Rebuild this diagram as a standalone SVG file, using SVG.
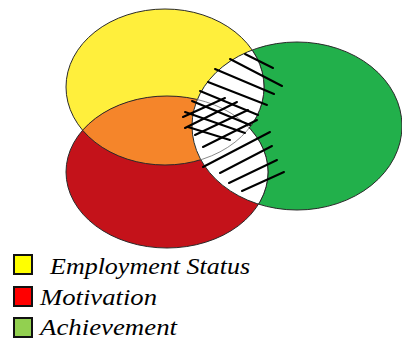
<svg xmlns="http://www.w3.org/2000/svg" width="402" height="340" viewBox="0 0 402 340">
<defs>
<ellipse id="eY" cx="165" cy="87" rx="99" ry="78"/>
<ellipse id="eR" cx="167" cy="172" rx="101" ry="76"/>
<ellipse id="eG" cx="297" cy="126" rx="105" ry="84"/>
<clipPath id="cY"><use href="#eY"/></clipPath>
<clipPath id="cR"><use href="#eR"/></clipPath>
<clipPath id="cG"><use href="#eG"/></clipPath>
<mask id="mNotR" maskUnits="userSpaceOnUse" x="0" y="0" width="402" height="340"><rect width="402" height="340" fill="#fff"/><use href="#eR" fill="#000"/></mask>
<mask id="mNotY" maskUnits="userSpaceOnUse" x="0" y="0" width="402" height="340"><rect width="402" height="340" fill="#fff"/><use href="#eY" fill="#000"/></mask>
</defs>
<rect width="402" height="340" fill="#fff"/>
<g id="employment-status"><use href="#eY" fill="#FFEF3C"/></g>
<g id="motivation"><use href="#eR" fill="#C4121A"/></g>
<g id="employment-motivation-overlap"><use href="#eR" fill="#F5852A" clip-path="url(#cY)"/></g>
<g id="achievement"><use href="#eG" fill="#22B04B"/></g>
<g id="outlines-base" fill="none" stroke="#2a2a2a" stroke-width="1"><use href="#eY"/><use href="#eR"/></g>
<g id="shared-region" clip-path="url(#cG)" fill="#fff">
<use href="#eY"/>
<use href="#eR"/>
</g>
<g id="outlines-top" fill="none" stroke="#2a2a2a" stroke-width="1">
<g clip-path="url(#cG)"><use href="#eY" mask="url(#mNotR)"/></g>
<g clip-path="url(#cG)"><use href="#eR" mask="url(#mNotY)"/></g>
<use href="#eG"/>
<g stroke="#8a8a8a">
<g clip-path="url(#cG)"><g clip-path="url(#cY)"><use href="#eR"/></g></g>
<g clip-path="url(#cG)"><g clip-path="url(#cR)"><use href="#eY"/></g></g>
</g>
</g>
<g id="hatching" stroke="#000" stroke-width="2" stroke-linecap="round">
<line x1="245" y1="54" x2="273" y2="68"/>
<line x1="230" y1="59" x2="282" y2="86"/>
<line x1="215" y1="69" x2="274" y2="94"/>
<line x1="208" y1="82" x2="267" y2="105"/>
<line x1="200" y1="91" x2="258" y2="115"/>
<line x1="192" y1="101" x2="250" y2="125"/>
<line x1="185" y1="112" x2="245" y2="133"/>
<line x1="188" y1="127" x2="230" y2="140"/>
<line x1="183" y1="117" x2="225" y2="98"/>
<line x1="185" y1="128" x2="237" y2="102"/>
<line x1="195" y1="135" x2="248" y2="110"/>
<line x1="203" y1="147" x2="257" y2="120"/>
<line x1="203" y1="167" x2="270" y2="132"/>
<line x1="220" y1="173" x2="272" y2="146"/>
<line x1="229" y1="183" x2="277" y2="160"/>
<line x1="242" y1="191" x2="284" y2="172"/>
</g>
<g id="legend">
<g id="legend-employment"><rect x="14" y="255" width="18" height="19" fill="#FFFF00" stroke="#111" stroke-width="2"/><text x="50" y="274" style="font-family:'Liberation Serif',serif;font-style:italic;font-size:24px" textLength="200" lengthAdjust="spacingAndGlyphs">Employment Status</text></g>
<g id="legend-motivation"><rect x="14" y="287" width="18" height="19" fill="#FF0000" stroke="#111" stroke-width="2"/><text x="40" y="305" style="font-family:'Liberation Serif',serif;font-style:italic;font-size:24px" textLength="117" lengthAdjust="spacingAndGlyphs">Motivation</text></g>
<g id="legend-achievement"><rect x="14" y="318" width="18" height="19" fill="#92D050" stroke="#111" stroke-width="2"/><text x="40" y="335" style="font-family:'Liberation Serif',serif;font-style:italic;font-size:24px" textLength="137" lengthAdjust="spacingAndGlyphs">Achievement</text></g>
</g>
</svg>
